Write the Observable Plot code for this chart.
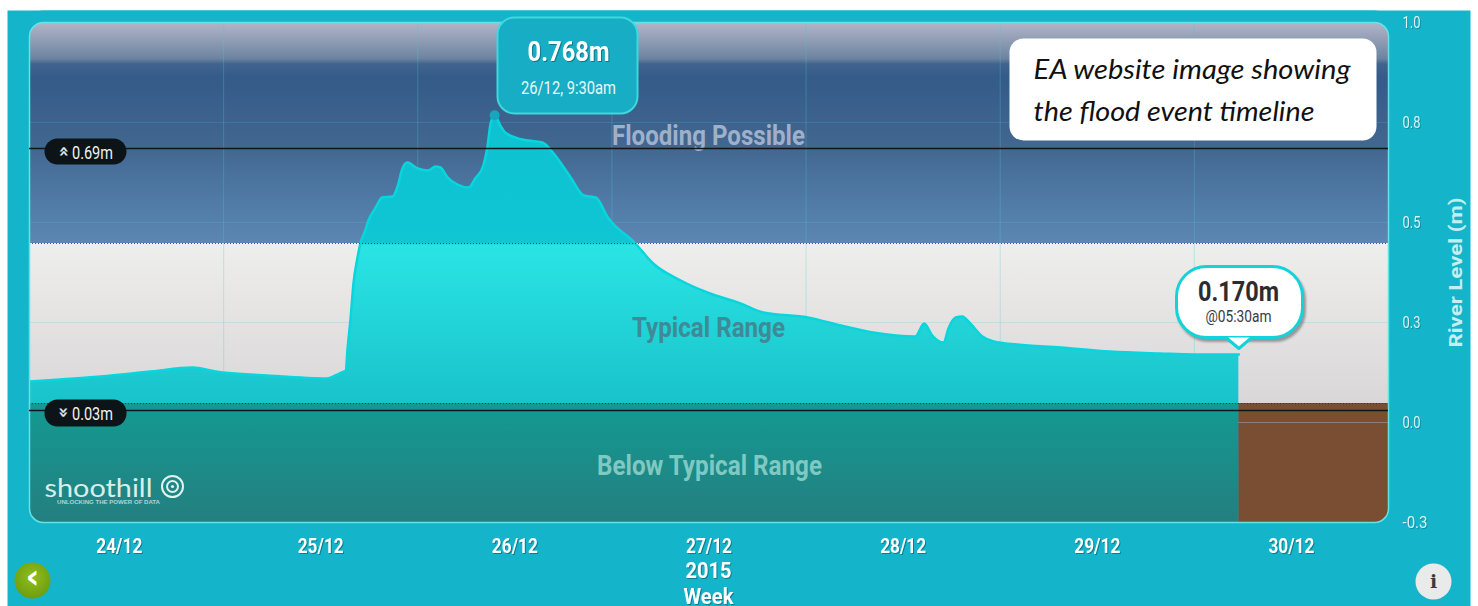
<!DOCTYPE html>
<html>
<head>
<meta charset="utf-8">
<script src="https://cdn.jsdelivr.net/npm/d3@7"></script>
<script src="https://cdn.jsdelivr.net/npm/@observablehq/plot@0.6"></script>
<style>
html,body{margin:0;padding:0;background:#fff;}
svg{display:block;}
</style>
</head>
<body>
<div id="chart"></div>
<script>
// Series: hours since 24/12 00:00, river level in metres
const hours = [0,3.8,8.8,15,20.2,23,29.4,36.8,37.8,38.6,39.1,39.3,39.7,40.05,40.55,40.9,41.5,41.9,42.8,43.6,44.9,45.5,46.1,46.7,48,49.3,50.2,50.8,51.7,52.9,54.3,55.1,56.1,56.6,57,57.5,58.2,58.8,60.9,63.4,64.8,66.9,68.5,70,71.5,74.9,77.1,80.5,83.8,87.9,90.7,96.2,100.3,104.3,109.5,110.6,111.6,113,113.6,114.5,115.3,116.3,117.8,119.2,122.1,127.5,133.6,139.8,143.9,149.5];
const levels = [.1025,.1075,.115,.1275,.1375,.1275,.1175,.11,.1175,.125,.13,.18,.2625,.3475,.4125,.4475,.48,.505,.5375,.5625,.565,.59,.635,.65,.635,.63,.64,.6375,.6125,.595,.5875,.61,.6425,.6875,.7475,.768,.7425,.725,.7075,.70,.6725,.6125,.5675,.5625,.5125,.4475,.3975,.355,.325,.2975,.275,.2625,.2425,.225,.215,.2475,.2175,.2,.235,.2625,.265,.2475,.215,.2025,.195,.1875,.1775,.1725,.17,.17];

const bandNames = ["Flooding Possible","Typical Range","Below Typical Range"];
const bandLow   = [.4475,.0475,-.25];
const bandHigh  = [1,.4475,.0475];
const thresholds = [.685,.03];
const thresholdLabels = ["0.69m","0.03m"];
const midnightHours = [24,48,72,96,120,144];
const dayLabels = ["24/12","25/12","26/12","27/12","28/12","29/12","30/12"];
const dayLabelHours = [11.1,36,60,84,108,132,156];
const yTicks = [-.25,0,.25,.5,.75,1];
const pointerHours = [147.9,149.5,151.1];
const pointerLevels = [.2125,.185,.2125];

const t0 = Date.UTC(2015,11,24);
const toDate = h => new Date(t0 + h*36e5);
const series = hours.map((h,i)=>({time:toDate(h),level:levels[i]}));
const last = series[series.length-1];
const peak = series[levels.indexOf(d3.max(levels))];
const bands = bandNames.map((name,i)=>({name,low:bandLow[i],high:bandHigh[i]}));
const pointer = pointerHours.map((h,i)=>({time:toDate(h),level:pointerLevels[i]}));

const W=1478,H=606,L=29,R=1388,T=22,B=522;
const narrow = "Roboto,sans-serif";
const teal = "#14b5ca";
const shadow = "drop-shadow(1px 1px 0 rgba(0,60,70,.45))";

// condensed look: rendered width of each text
const textWidths = {
  "Flooding Possible":193,"Typical Range":153,"Below Typical Range":225,
  "0.69m":41,"0.03m":41,"0.768m":82,"26/12, 9:30am":95,"0.170m":81,"@05:30am":66,
  "2015":46,"Week":50,"River Level (m)":150,"shoothill":108,"UNLOCKING THE POWER OF DATA":103,
  "EA website image showing":317,"the flood event timeline":281,
  "24/12":46,"25/12":46,"26/12":46,"27/12":46,"28/12":46,"29/12":46,"30/12":46,
  "1.0":18,"0.8":18,"0.5":18,"0.3":18,"0.0":18,"-0.3":25
};

// decoration helpers: placed relative to the frame
const box = (l,t,r,b,o) => Plot.frame({insetLeft:l-L,insetRight:R-r,insetTop:t-T,insetBottom:B-b,...o});
const label = (s,x,y,o) => Plot.text([s],{text:d=>d,frameAnchor:"top-left",dx:x-L,dy:y-T,lineAnchor:"middle",textAnchor:"middle",fontFamily:narrow,...o});
const disc = (x,y,o) => Plot.dot([0],{frameAnchor:"top-left",dx:x-L,dy:y-T,...o});

const defs = () => {
  const d = d3.create("svg:defs");
  d.html(`
  <linearGradient id="gTop" x1="0" y1="0" x2="0" y2="1">
    <stop offset="0" stop-color="#b2b6ca"/><stop offset=".08" stop-color="#929eb4"/>
    <stop offset=".165" stop-color="#6c84a1"/><stop offset=".19" stop-color="#41648d"/>
    <stop offset=".25" stop-color="#345b89"/><stop offset=".55" stop-color="#41668f"/>
    <stop offset=".8" stop-color="#4f7aa5"/><stop offset="1" stop-color="#5c87b3"/>
  </linearGradient>
  <linearGradient id="gMid" x1="0" y1="0" x2="0" y2="1">
    <stop offset="0" stop-color="#eeeeec"/><stop offset="1" stop-color="#d9d7d8"/>
  </linearGradient>
  <linearGradient id="gLow" x1="0" y1="0" x2="0" y2="1">
    <stop offset="0" stop-color="#139a92"/><stop offset="1" stop-color="#247f80"/>
  </linearGradient>
  <linearGradient id="gArea" gradientUnits="userSpaceOnUse" x1="0" y1="0" x2="0" y2="606">
    <stop offset="0" stop-color="#0cbdcf"/><stop offset=".4" stop-color="#10c6d3"/>
    <stop offset=".405" stop-color="#2ae4e4"/><stop offset=".665" stop-color="#19c3cb"/>
  </linearGradient>
  <radialGradient id="gGreen" cx=".5" cy=".4" r=".6">
    <stop offset="0" stop-color="#8fc01c"/><stop offset="1" stop-color="#6f9c10"/>
  </radialGradient>`);
  return d.node();
};
const bandFill = ["url(#gTop)","url(#gMid)","url(#gLow)"];

const chart = Plot.plot({
  width:W,height:H,marginLeft:L,marginRight:W-R,marginTop:T,marginBottom:H-B,
  style:{background:"transparent",overflow:"visible"},
  x:{type:"utc",domain:[toDate(0),toDate(168)]},
  y:{domain:[-.25,1]},
  marks:[
    defs,
    box(7,10,1470,606,{fill:teal,stroke:"none"}),
    Plot.rect(bands.slice(0,2),{x1:()=>toDate(0),x2:()=>toDate(168),y1:"low",y2:"high",fill:(d,i)=>bandFill[i]}),
    Plot.ruleX(midnightHours.map(toDate),{stroke:"#4fc9d2",strokeOpacity:.3,y1:-.25,y2:1}),
    Plot.ruleY(yTicks.slice(1,5),{stroke:"#4fc9d2",strokeOpacity:.2}),
    Plot.areaY(series,{x:"time",y1:()=>bandLow[1],y2:"level",fill:"url(#gArea)",curve:"monotone-x"}),
    Plot.line(series,{x:"time",y:"level",stroke:"#08d6dc",strokeWidth:2.5,curve:"monotone-x"}),
    Plot.rect(bands.slice(2),{x1:()=>toDate(0),x2:()=>last.time,y1:"low",y2:"high",fill:"url(#gLow)"}),
    Plot.rect(bands.slice(2),{x1:()=>last.time,x2:()=>toDate(168),y1:"low",y2:"high",fill:"#7a4e33"}),
    Plot.ruleY([0],{x1:()=>last.time,x2:()=>toDate(168),stroke:"#8d7d78"}),
    Plot.ruleY([bandLow[0],bandLow[1]],{stroke:"#1c2a3a",strokeDasharray:"1,2",strokeOpacity:.75}),
    // corners and border
    Plot.frame({inset:-6,rx:20,stroke:teal,strokeWidth:12,fill:"none"}),
    Plot.frame({rx:14,stroke:"#62e4e6",strokeWidth:1.5,fill:"none"}),
    // band names
    label(bandNames[0],708,136,{fontSize:27,fontWeight:"bold",fill:"#9fb0cb"}),
    label(bandNames[1],708,328,{fontSize:27,fontWeight:"bold",fill:"#3e8a96"}),
    label(bandNames[2],709,466,{fontSize:27,fontWeight:"bold",fill:"#80c8c2"}),
    // thresholds
    Plot.ruleY(thresholds,{stroke:"#10161c",strokeWidth:1.6}),
    box(44,138,126,164,{fill:"#0d1418",stroke:"none",rx:13}),
    box(44,399,126,426,{fill:"#0d1418",stroke:"none",rx:13}),
    label("»",63,151,{rotate:-90,fontSize:17,fontWeight:"bold",fill:"#dfe3e3",fontFamily:"'DejaVu Sans'"}),
    label("»",63,412,{rotate:90,fontSize:17,fontWeight:"bold",fill:"#dfe3e3",fontFamily:"'DejaVu Sans'"}),
    label(thresholdLabels[0],92,152,{fontSize:19,fill:"#eef2f2"}),
    label(thresholdLabels[1],92,413,{fontSize:19,fill:"#eef2f2"}),
    // logo
    label("shoothill",98,488,{fontSize:25,fontWeight:400,fontFamily:"Lato",fill:"#dbeeea"}),
    label("UNLOCKING THE POWER OF DATA",108,502,{fontSize:5,fontWeight:"bold",fontFamily:"'Liberation Sans'",fill:"#a9d6d0"}),
    disc(172,486,{r:10.5,stroke:"#e3f2ef",strokeWidth:2}),
    disc(172,486,{r:5.5,stroke:"#e3f2ef",strokeWidth:2}),
    disc(172,486,{r:1.6,fill:"#e3f2ef"}),
    // annotation box
    box(1009,38,1376,140,{fill:"#fff",stroke:"none",rx:14}),
    label("EA website image showing",1033,70,{textAnchor:"start",fontFamily:"Lato",fontStyle:"italic",fontSize:27,fill:"#111"}),
    label("the flood event timeline",1033,112,{textAnchor:"start",fontFamily:"Lato",fontStyle:"italic",fontSize:27,fill:"#111"}),
    // peak callout
    Plot.dot([peak],{x:"time",y:"level",r:5,fill:"#17a6bd"}),
    box(497,17,637,113,{fill:"#17adc5",stroke:"#3fd8df",strokeWidth:2,rx:17}),
    label("0.768m",568,52,{fontSize:27,fontWeight:"bold",fill:"#fff",imageFilter:shadow}),
    label("26/12, 9:30am",568,87,{fontSize:19,fill:"#e8f8f8"}),
    // latest callout
    box(1176,266,1302,337,{fill:"#fff",stroke:"#12d2da",strokeWidth:3,rx:30,imageFilter:"drop-shadow(2px 3px 1px rgba(60,60,70,.45))"}),
    Plot.line(pointer,{x:"time",y:"level",fill:"#fff",stroke:"#12d2da",strokeWidth:3}),
    label("0.170m",1238,292,{fontSize:27,fontWeight:"bold",fill:"#2c2c30"}),
    label("@05:30am",1238,316,{fontSize:16,fill:"#3a3a40"}),
    // axes
    Plot.axisX({ticks:dayLabelHours.map(toDate),tickFormat:(d,i)=>dayLabels[i],tickSize:0,tickPadding:16,label:null,fontSize:21,fontWeight:"bold",fill:"#fff",fontFamily:narrow,imageFilter:shadow}),
    Plot.axisY({anchor:"right",ticks:yTicks,tickFormat:d=>d.toFixed(1),tickSize:0,tickPadding:14,fontSize:16,fill:"#d9f4f6",fontFamily:narrow,label:null,imageFilter:"drop-shadow(1px 1px 0 rgba(0,60,70,.3))"}),
    label("River Level (m)",1455,272,{rotate:-90,fontSize:19,fontWeight:"bold",fill:"#c4eef1"}),
    label("2015",708,570,{fontSize:22,fontWeight:"bold",fill:"#fff",imageFilter:shadow}),
    label("Week",708,596,{fontSize:22,fontWeight:"bold",fill:"#fff",imageFilter:shadow}),
    // buttons
    disc(32,580,{r:18,fill:"url(#gGreen)"}),
    label("‹",32,577,{fontSize:34,fontWeight:"bold",fill:"#fff",fontFamily:"'DejaVu Sans'"}),
    disc(1433,581,{r:18,fill:"#e9eaea"}),
    label("i",1433,581,{fontSize:19,fontWeight:"bold",fill:"#3b3b3b",fontFamily:"'DejaVu Serif'"})
  ]
});
document.getElementById("chart").appendChild(chart);
chart.querySelectorAll("text").forEach(t=>{
  const w = textWidths[t.textContent.replace("\u2212","-").trim()];
  if (w) { t.setAttribute("textLength",w); t.setAttribute("lengthAdjust","spacingAndGlyphs"); }
});
</script>
</body>
</html>
